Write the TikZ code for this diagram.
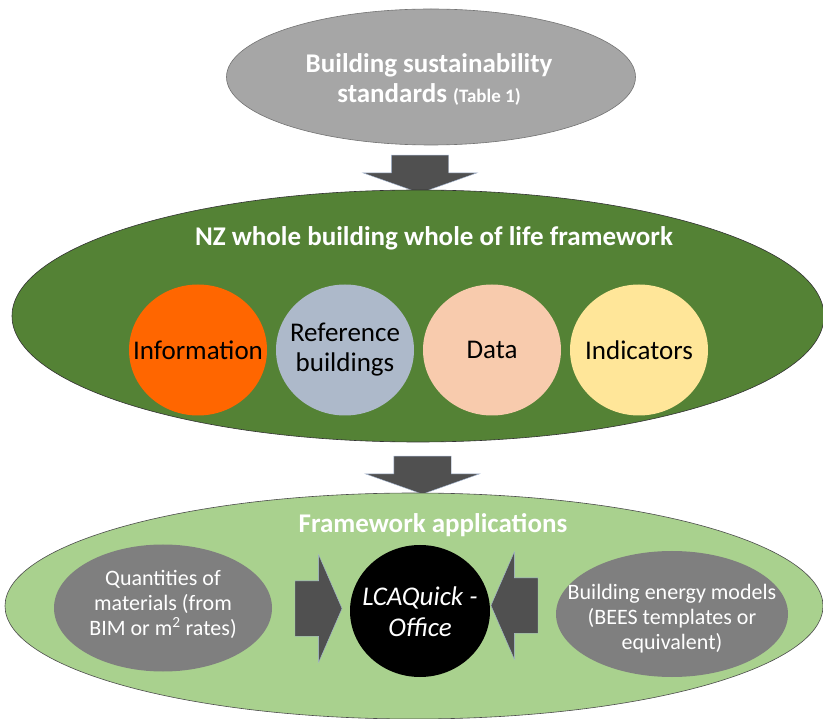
\documentclass[tikz,border=0pt]{standalone}
\usepackage{fontspec}
\setmainfont{Carlito}
\usetikzlibrary{shapes.geometric,shapes.arrows}
\definecolor{topgray}{HTML}{A6A6A6}
\definecolor{nzgreen}{HTML}{548235}
\definecolor{appgreen}{HTML}{A9D18E}
\definecolor{infoorange}{HTML}{FF6600}
\definecolor{refblue}{HTML}{ADB9CA}
\definecolor{datapeach}{HTML}{F8CBAD}
\definecolor{indyellow}{HTML}{FFE699}
\definecolor{appgray}{HTML}{7F7F7F}
\definecolor{arrgray}{HTML}{505050}
\definecolor{arredge}{HTML}{A8BAD6}
\tikzset{
	bigell/.style={ellipse,inner sep=0pt,line width=0.6pt},
	circ/.style={ellipse,inner sep=0pt,minimum width=138pt,minimum height=131pt},
	downarrow/.style={single arrow,rotate=-90,fill=arrgray,draw=arredge,line width=0.4pt,inner xsep=0pt,inner ysep=28.5pt,
		minimum height=38pt,single arrow head extend=28.5pt,single arrow tip angle=141},
	sidearrow/.style={single arrow,fill=arrgray,draw=arredge,line width=0.4pt,inner xsep=0pt,inner ysep=27.5pt,
		minimum height=47pt,single arrow head extend=26pt,single arrow tip angle=133},
	ttl/.style={text=white,font=\bfseries\fontsize{27}{30}\selectfont,align=center,inner sep=0pt},
	ctext/.style={font=\fontsize{27}{30}\selectfont,align=center,inner sep=0pt},
	apptext/.style={text=white,font=\fontsize{22}{25}\selectfont,align=center,inner sep=0pt}}

\begin{document}
\begin{tikzpicture}[x=1pt,y=-1pt]
	\useasboundingbox (0,0) rectangle (823,719);
	% standards
	\node (std) at (431,77) [bigell,fill=topgray,draw=black!55,minimum width=409pt,minimum height=136pt] {};
	\node (stdT) at (429,79) [ttl] {Building sustainability\\standards {\fontsize{19}{22}\selectfont(Table 1)}};
	\node (A1) at (420,169) [downarrow] {};
	% framework
	\node (fw) at (418,316) [bigell,fill=nzgreen,draw=black!80,minimum width=812pt,minimum height=252pt] {};
	\node (fwT) at (434,238) [ttl] {NZ whole building whole of life framework};
	\node (info) at (198,350) [circ,fill=infoorange] {};
	\node (ref) at (345,350) [circ,fill=refblue] {};
	\node (data) at (492,350) [circ,fill=datapeach] {};
	\node (ind) at (639,350) [circ,fill=indyellow] {};
	\node at (info) [ctext] {Information};
	\node at (ref) [ctext] {Reference\\buildings};
	\node at (data) [ctext] {Data};
	\node at (ind) [ctext] {Indicators};
	\node (A2) at (422.5,470) [downarrow] {};
	% applications
	\node (app) at (414,606) [bigell,fill=appgreen,draw=black!70,minimum width=818pt,minimum height=226pt] {};
	\node (appT) at (433,525) [ttl] {Framework applications};
	\node (qty) at (163,608) [ellipse,inner sep=0pt,fill=appgray,minimum width=218pt,minimum height=127pt] {};
	\node (lca) at (420,611) [ellipse,inner sep=0pt,fill=black,minimum width=140pt,minimum height=132pt] {};
	\node (bem) at (672,614) [ellipse,inner sep=0pt,fill=appgray,minimum width=232pt,minimum height=126pt] {};
	\node (qtyT) at (163,604) [apptext] {Quantities of\\materials (from\\BIM or m\textsuperscript{2} rates)};
	\node (lcaT) at (420,612) [ctext,text=white,font=\itshape\fontsize{27}{31}\selectfont] {LCAQuick -\\Office};
	\node (bemT) at (672,619) [apptext] {Building energy models\\(BEES templates or\\equivalent)};
	\node (A3) at (312.5,608.5) [sidearrow] {};
	\node (A4) at (520.5,605.5) [sidearrow,rotate=180] {};
\end{tikzpicture}
\end{document}
